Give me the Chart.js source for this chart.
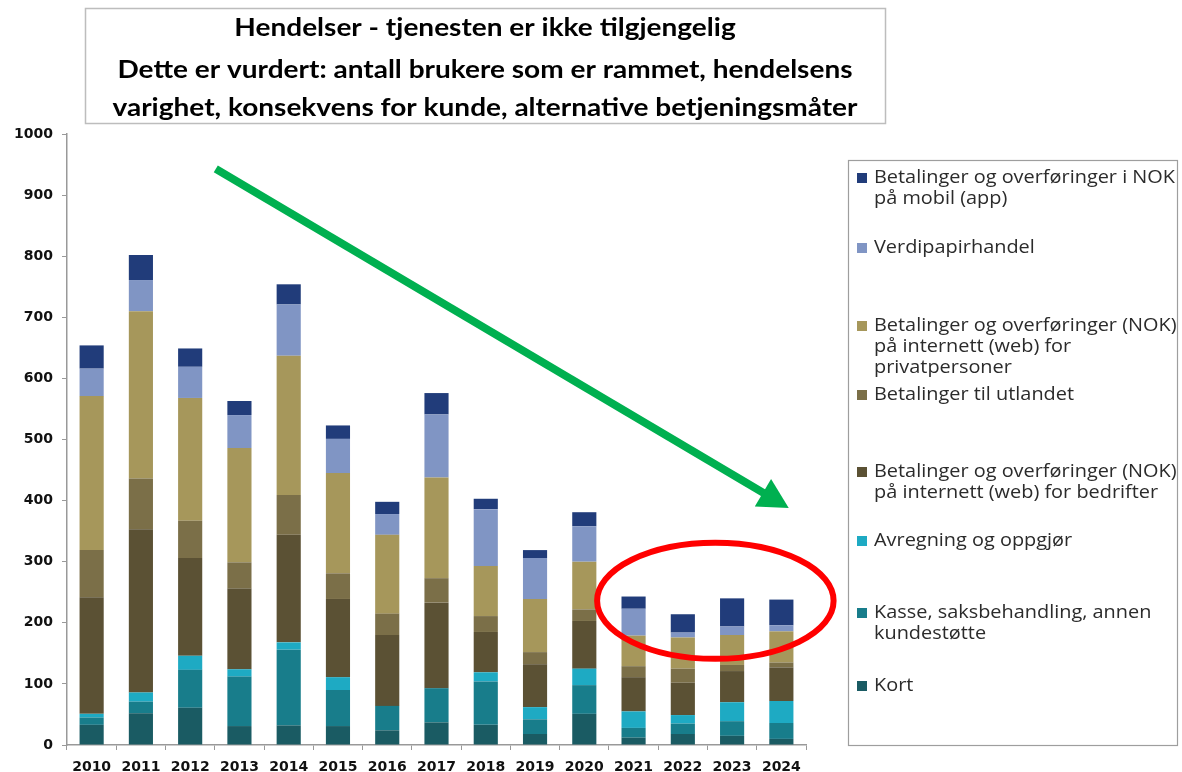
<!DOCTYPE html>
<html>
<head>
<meta charset="utf-8">
<script src="https://cdn.jsdelivr.net/npm/chart.js@4.4.1/dist/chart.umd.min.js"></script>
<style>
  html, body { margin: 0; padding: 0; background: #fff; }
  #wrap { width: 1182px; height: 772px; position: relative; }
</style>
</head>
<body>
<div id="wrap"><canvas id="chart"></canvas></div>
<script>
// ── Data ──────────────────────────────────────────────────────────────────────
const years = ['2010', '2011', '2012', '2013', '2014', '2015', '2016', '2017',
  '2018', '2019', '2020', '2021', '2022', '2023', '2024'];

// stacked bottom -> top
const kort       = [33, 52, 61, 31, 32, 31, 24, 37, 33, 18, 51, 12, 18, 15, 10];
const kasse      = [12, 19, 62, 81, 124, 59, 40, 56, 71, 24, 47, 16, 17, 24, 26];
const avregning  = [6, 15, 23, 12, 12, 21, 0, 0, 15, 20, 27, 27, 14, 31, 36];
const bedrifter  = [191, 267, 160, 132, 176, 128, 116, 140, 66, 70, 78, 56, 53, 51, 55];
const utlandet   = [77, 83, 61, 43, 65, 42, 35, 40, 26, 20, 19, 18, 23, 10, 8];
const privat     = [252, 274, 201, 187, 228, 164, 129, 165, 82, 87, 78, 50, 51, 49, 51];
const verdipapir = [45, 51, 51, 54, 84, 56, 34, 103, 93, 67, 58, 44, 8, 14, 10];
const mobil      = [38, 41, 30, 23, 33, 22, 20, 35, 17, 13, 23, 20, 30, 46, 42];

const yTicks = [0, 100, 200, 300, 400, 500, 600, 700, 800, 900, 1000];

const titleLines = [
  'Hendelser - tjenesten er ikke tilgjengelig',
  'Dette er vurdert: antall brukere som er rammet, hendelsens',
  'varighet, konsekvens for kunde, alternative betjeningsmåter',
];

// annotation anchors in data units (category index, value)
const arrowFrom = { x: 2.52, y: 943 };
const arrowTo = { x: 14.15, y: 388 };
const ringCenter = { x: 12.66, y: 236 };
const ringRadius = { x: 2.4, y: 95 };

// ── Series ────────────────────────────────────────────────────────────────────
const series = [
  { label: 'Kort', data: kort, color: '#1A5B63' },
  { label: 'Kasse, saksbehandling, annen\nkundestøtte', data: kasse, color: '#187D8B' },
  { label: 'Avregning og oppgjør', data: avregning, color: '#1EAAC3' },
  { label: 'Betalinger og overføringer (NOK)\npå internett (web) for bedrifter', data: bedrifter, color: '#5B5134' },
  { label: 'Betalinger til utlandet', data: utlandet, color: '#7B6F48' },
  { label: 'Betalinger og overføringer (NOK)\npå internett (web) for\nprivatpersoner', data: privat, color: '#A6975B' },
  { label: 'Verdipapirhandel', data: verdipapir, color: '#8095C4' },
  { label: 'Betalinger og overføringer i NOK\npå mobil (app)', data: mobil, color: '#213C7A' },
];

// legend item top-line centres (layout only)
const legendRows = [178, 248, 326, 395, 472, 541, 613, 686];

// draw text squeezed/stretched horizontally to a target width
function fitText(ctx, text, x, y, sx) {
  ctx.save();
  ctx.translate(x, y);
  ctx.scale(sx, 1);
  ctx.fillText(text, 0, 0);
  ctx.restore();
}

// ── Overlay plugin: title box, arrow, ring, legend ────────────────────────────
const overlay = {
  id: 'overlay',
  afterDraw(chart) {
    const ctx = chart.ctx;
    const xs = chart.scales.x, ys = chart.scales.y;
    const px = p => ({ x: xs.getPixelForValue(p.x), y: ys.getPixelForValue(p.y) });
    ctx.save();

    // title box
    ctx.fillStyle = '#fff';
    ctx.fillRect(85, 8, 800, 115);
    ctx.strokeStyle = '#BDBDBD';
    ctx.lineWidth = 1.5;
    ctx.strokeRect(85.5, 8.5, 800, 115);
    ctx.fillStyle = '#000';
    ctx.font = 'bold 24px Lato, sans-serif';
    ctx.textAlign = 'center';
    ctx.textBaseline = 'middle';
    const tsx = 735 / ctx.measureText(titleLines[1]).width;
    const ty = [28, 70, 108];
    titleLines.forEach((t, i) => fitText(ctx, t, 485, ty[i], tsx));

    // green arrow
    const a = px(arrowFrom), b = px(arrowTo);
    const ang = Math.atan2(b.y - a.y, b.x - a.x);
    const headLen = 30, headHalf = 16;
    const bx = b.x - Math.cos(ang) * headLen, by = b.y - Math.sin(ang) * headLen;
    ctx.strokeStyle = '#00B050';
    ctx.fillStyle = '#00B050';
    ctx.lineWidth = 8;
    ctx.lineCap = 'butt';
    ctx.beginPath(); ctx.moveTo(a.x, a.y); ctx.lineTo(bx + Math.cos(ang) * 2, by + Math.sin(ang) * 2); ctx.stroke();
    ctx.beginPath();
    ctx.moveTo(b.x, b.y);
    ctx.lineTo(bx + Math.sin(ang) * headHalf, by - Math.cos(ang) * headHalf);
    ctx.lineTo(bx - Math.sin(ang) * headHalf, by + Math.cos(ang) * headHalf);
    ctx.closePath(); ctx.fill();

    // red ring
    const c = px(ringCenter);
    const rx = Math.abs(xs.getPixelForValue(ringCenter.x + ringRadius.x) - c.x);
    const ry = Math.abs(ys.getPixelForValue(ringCenter.y + ringRadius.y) - c.y);
    ctx.strokeStyle = '#FF0000';
    ctx.lineWidth = 6;
    ctx.beginPath(); ctx.ellipse(c.x, c.y, rx, ry, 0, 0, Math.PI * 2); ctx.stroke();

    // legend box
    ctx.strokeStyle = '#9E9E9E';
    ctx.lineWidth = 1.2;
    ctx.strokeRect(848.5, 160.5, 329, 585);
    ctx.font = '18px "Open Sans", sans-serif';
    ctx.textAlign = 'left';
    ctx.textBaseline = 'middle';
    const lsx = 301 / ctx.measureText('Betalinger og overføringer i NOK').width;
    const items = chart.data.datasets.slice().reverse();
    items.forEach((ds, i) => {
      const y0 = legendRows[i];
      ctx.fillStyle = ds.backgroundColor;
      ctx.fillRect(857, y0 - 5, 10, 10);
      ctx.fillStyle = '#2B2B2B';
      ds.label.split('\n').forEach((line, j) => fitText(ctx, line, 874, y0 + j * 21, lsx));
    });
    ctx.restore();
  },
};

// ── Chart ─────────────────────────────────────────────────────────────────────
const axisFont = { family: '"DejaVu Sans", sans-serif', size: 14, weight: 'bold' };

new Chart(document.getElementById('chart'), {
  type: 'bar',
  data: {
    labels: years,
    datasets: series.map(s => ({
      label: s.label,
      data: s.data,
      backgroundColor: s.color,
      borderWidth: 0,
      categoryPercentage: 1,
      barPercentage: 0.49,
    })),
  },
  options: {
    responsive: true,
    maintainAspectRatio: false,
    animation: false,
    layout: { padding: { top: 134, right: 376, left: 0, bottom: 0 } },
    plugins: { legend: { display: false }, title: { display: false }, tooltip: { enabled: false } },
    scales: {
      x: {
        stacked: true,
        afterFit: s => { s.height = 27; },
        grid: { display: true, drawOnChartArea: false, drawTicks: true, tickLength: 5, color: '#999', offset: true },
        border: { display: true, color: '#999', width: 1.5 },
        ticks: { color: '#111', font: axisFont, padding: 9, maxRotation: 0, autoSkip: false },
      },
      y: {
        stacked: true,
        min: 0,
        max: 1000,
        afterFit: s => { s.width = 67; },
        afterBuildTicks: s => { s.ticks = yTicks.map(v => ({ value: v })); },
        grid: { display: true, drawOnChartArea: false, drawTicks: true, tickLength: 5, color: '#999' },
        border: { display: true, color: '#999', width: 1.5 },
        ticks: { color: '#111', font: axisFont, padding: 9, callback: v => String(v) },
      },
    },
  },
  plugins: [overlay],
});
</script>
</body>
</html>
